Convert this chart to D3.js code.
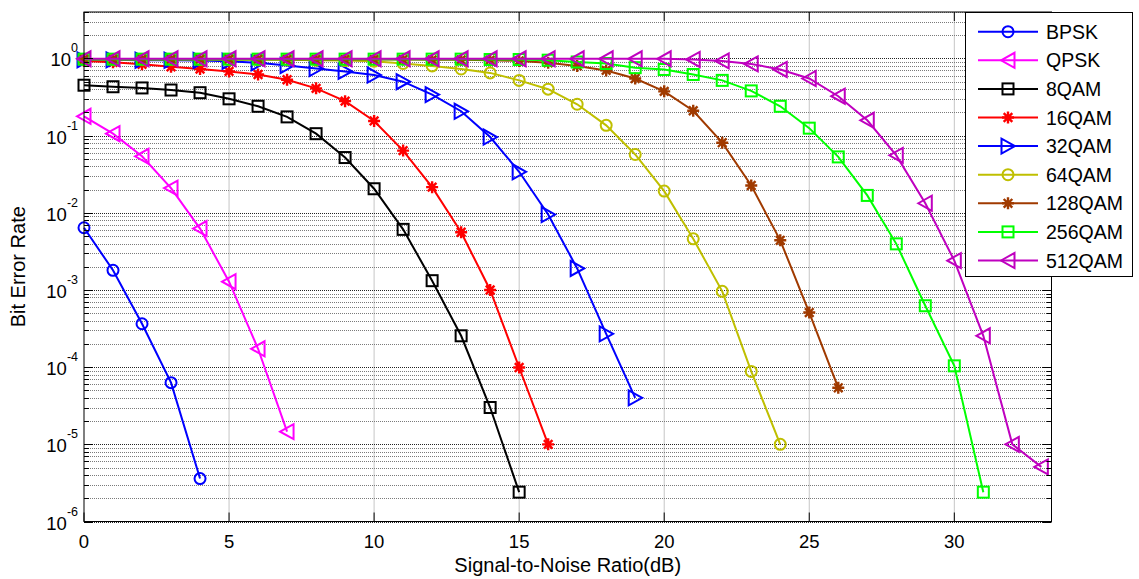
<!DOCTYPE html>
<html>
<head>
<meta charset="utf-8">
<script src="https://cdn.jsdelivr.net/npm/d3@7"></script>
<style>
  body { margin: 0; background: #fff; }
  text { font-family: Arial, "Liberation Sans", sans-serif; fill: #000; }
</style>
</head>
<body>
<svg id="chart" width="1139" height="579"></svg>
<script>
// SNR axis (dB)
const snr = [0,1,2,3,4,5,6,7,8,9,10,11,12,13,14,15,16,17,18,19,20,21,22,23,24,25,26,27,28,29,30,31,32,33];

// BER per modulation
const bpsk = [6.4e-3, 1.8e-3, 3.65e-4, 6.3e-5, 3.6e-6];
const qpsk = [0.178, 0.106, 0.054, 0.0209, 6.25e-3, 1.28e-3, 1.73e-4, 1.46e-5];
const qam8 = [0.45, 0.43, 0.415, 0.39, 0.36, 0.30, 0.24, 0.175, 0.106, 0.052, 0.0205, 6.1e-3, 1.32e-3, 2.55e-4, 3.0e-5, 2.4e-6];
const qam16 = [0.93, 0.89, 0.84, 0.78, 0.73, 0.68, 0.62, 0.53, 0.41, 0.28, 0.155, 0.064, 0.0215, 5.6e-3, 1.0e-3, 9.9e-5, 1.0e-5];
const qam32 = [0.96, 0.96, 0.95, 0.95, 0.94, 0.92, 0.88, 0.81, 0.74, 0.68, 0.61, 0.50, 0.34, 0.207, 0.096, 0.034, 9.5e-3, 1.9e-3, 2.7e-4, 4.0e-5];
const qam64 = [0.97, 0.97, 0.97, 0.97, 0.97, 0.96, 0.96, 0.96, 0.95, 0.94, 0.92, 0.86, 0.80, 0.73, 0.65, 0.52, 0.40, 0.255, 0.136, 0.057, 0.0191, 4.6e-3, 9.6e-4, 8.8e-5, 1.0e-5];
const qam128 = [0.98, 0.98, 0.98, 0.98, 0.98, 0.98, 0.98, 0.97, 0.97, 0.97, 0.97, 0.97, 0.96, 0.96, 0.95, 0.93, 0.88, 0.80, 0.70, 0.55, 0.375, 0.21, 0.081, 0.0226, 4.4e-3, 5.1e-4, 5.4e-5];
const qam256 = [0.98, 0.98, 0.98, 0.98, 0.98, 0.98, 0.98, 0.98, 0.98, 0.98, 0.98, 0.98, 0.98, 0.98, 0.97, 0.97, 0.95, 0.90, 0.86, 0.76, 0.72, 0.62, 0.52, 0.38, 0.24, 0.125, 0.053, 0.0168, 3.96e-3, 6.25e-4, 1.04e-4, 2.4e-6];
const qam512 = [0.99, 0.99, 0.99, 0.99, 0.99, 0.99, 0.99, 0.99, 0.99, 0.99, 0.99, 0.99, 0.99, 0.99, 0.99, 0.99, 0.99, 0.99, 0.99, 0.99, 0.99, 0.97, 0.93, 0.85, 0.72, 0.55, 0.324, 0.158, 0.0555, 0.0133, 2.4e-3, 2.55e-4, 1.0e-5, 5.1e-6];

const names = ["BPSK", "QPSK", "8QAM", "16QAM", "32QAM", "64QAM", "128QAM", "256QAM", "512QAM"];
const values = [bpsk, qpsk, qam8, qam16, qam32, qam64, qam128, qam256, qam512];
const colors = ["#0000ff", "#ff00ff", "#000000", "#ff0000", "#0000ff", "#bfbf00", "#a03a00", "#00ff00", "#bf00bf"];
const markers = ["circle", "tri-left", "square", "star", "tri-right", "circle", "star", "square", "tri-left"];

const xTicks = [0, 5, 10, 15, 20, 25, 30];
const yExps = [-6, -5, -4, -3, -2, -1, 0];

const margin = { left: 84, top: 12, right: 87.5, bottom: 57.5 };
const W = 1139, H = 579;

const svg = d3.select("#chart");

const x = d3.scaleLinear().domain([0, 33.35]).range([margin.left, W - margin.right]);
const y = d3.scaleLog().domain([1e-6, 4]).range([H - margin.bottom, margin.top]);

const x0 = x.range()[0], x1 = x.range()[1];
const y0 = y.range()[0], y1 = y.range()[1];

// grid
const grid = svg.append("g");
const allY = y.ticks();
const isMajor = v => Math.abs(Math.log10(v) - Math.round(Math.log10(v))) < 1e-9;

grid.selectAll(".gx")
  .data(xTicks.slice(1))
  .enter().append("line")
  .attr("x1", d => x(d)).attr("x2", d => x(d))
  .attr("y1", y0).attr("y2", y1)
  .attr("stroke", "#8c8c8c")
  .attr("stroke-dasharray", "1,1");

grid.selectAll(".gy")
  .data(allY)
  .enter().append("line")
  .attr("x1", x0).attr("x2", x1)
  .attr("y1", d => Math.round(y(d)) + 0.5).attr("y2", d => Math.round(y(d)) + 0.5)
  .attr("stroke", d => isMajor(d) ? "#222" : "#7a7a7a")
  .attr("stroke-dasharray", "1,1");

// markers
function drawMarker(g, type, color) {
  const s = g.append("g").attr("fill", "none").attr("stroke", color).attr("stroke-width", 2);
  if (type === "circle") {
    s.append("circle").attr("r", 5.5);
  } else if (type === "square") {
    s.append("rect").attr("x", -5.5).attr("y", -5.5).attr("width", 11).attr("height", 11);
  } else if (type === "tri-left") {
    s.append("path").attr("d", "M-7,0L6.5,-7.5L6.5,7.5Z");
  } else if (type === "tri-right") {
    s.append("path").attr("d", "M7,0L-6.5,-7.5L-6.5,7.5Z");
  } else if (type === "star") {
    s.append("path").attr("d", "M-6,0H6M0,-6V6M-4.3,-4.3L4.3,4.3M-4.3,4.3L4.3,-4.3")
      .attr("stroke-width", 2.4);
  }
  return s;
}

const line = d3.line().x(d => x(d[0])).y(d => y(d[1]));

values.forEach((vals, i) => {
  const pts = vals.map((v, k) => [snr[k], v]);
  const g = svg.append("g");
  g.append("path")
    .datum(pts)
    .attr("d", line)
    .attr("fill", "none")
    .attr("stroke", colors[i])
    .attr("stroke-width", 2);
  pts.forEach(p => {
    drawMarker(g, markers[i], colors[i]).attr("transform", `translate(${x(p[0])},${y(p[1])})`);
  });
});

// axes box and ticks
const ax = svg.append("g").attr("stroke", "#000").attr("stroke-width", 1);
ax.append("rect")
  .attr("x", x0).attr("y", y1)
  .attr("width", x1 - x0).attr("height", y0 - y1)
  .attr("fill", "none");

xTicks.forEach(t => {
  ax.append("line").attr("x1", x(t)).attr("x2", x(t)).attr("y1", y0).attr("y2", y0 - 9);
  ax.append("line").attr("x1", x(t)).attr("x2", x(t)).attr("y1", y1).attr("y2", y1 + 9);
});

allY.forEach(t => {
  const len = isMajor(t) ? 9 : 5;
  const py = Math.round(y(t)) + 0.5;
  ax.append("line").attr("x1", x0).attr("x2", x0 + len).attr("y1", py).attr("y2", py);
  ax.append("line").attr("x1", x1).attr("x2", x1 - len).attr("y1", py).attr("y2", py);
});

// tick labels
svg.selectAll(".xl")
  .data(xTicks)
  .enter().append("text")
  .attr("x", d => x(d))
  .attr("y", y0 + 26)
  .attr("text-anchor", "middle")
  .style("font-size", "18.5px")
  .text(d => d);

yExps.forEach(e => {
  const t = svg.append("text")
    .attr("x", x0 - 6)
    .attr("y", y(Math.pow(10, e)) + 8)
    .attr("text-anchor", "end")
    .style("font-size", "18.5px");
  t.append("tspan").text("10");
  t.append("tspan").attr("dy", -14).style("font-size", "12.5px").text(e);
});

// axis titles
svg.append("text")
  .attr("x", (x0 + x1) / 2)
  .attr("y", H - 7)
  .attr("text-anchor", "middle")
  .style("font-size", "20px")
  .text("Signal-to-Noise Ratio(dB)");

svg.append("text")
  .attr("transform", `translate(25,${(y0 + y1) / 2}) rotate(-90)`)
  .attr("text-anchor", "middle")
  .style("font-size", "20px")
  .text("Bit Error Rate");

// legend
const lg = svg.append("g");
lg.append("rect")
  .attr("x", 965.5).attr("y", 12.5)
  .attr("width", 167).attr("height", 264)
  .attr("fill", "#fff")
  .attr("stroke", "#000");

names.forEach((n, i) => {
  const ly = 31.7 + i * 28.6;
  lg.append("line")
    .attr("x1", 978).attr("x2", 1038)
    .attr("y1", ly).attr("y2", ly)
    .attr("stroke", colors[i]).attr("stroke-width", 2);
  drawMarker(lg, markers[i], colors[i]).attr("transform", `translate(1008,${ly})`);
  lg.append("text")
    .attr("x", 1046).attr("y", ly + 7)
    .style("font-size", "19.5px")
    .text(n);
});
</script>
</body>
</html>
